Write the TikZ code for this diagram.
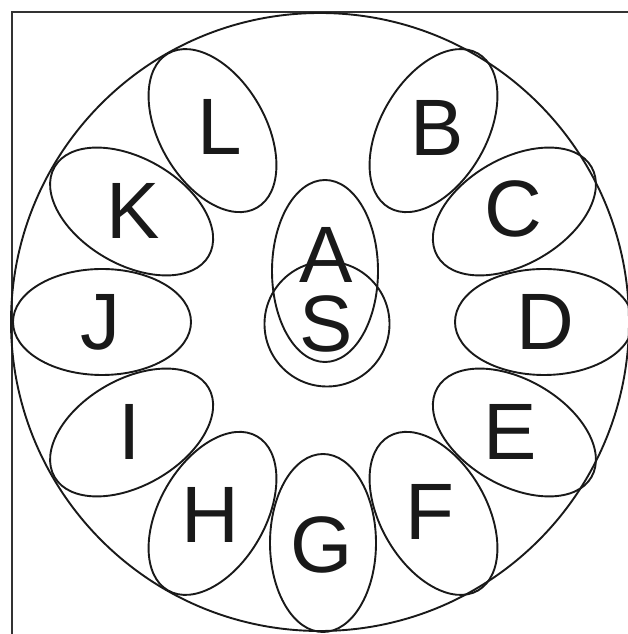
\documentclass[tikz,border=0pt]{standalone}
\usepackage{fontspec}
\setmainfont{Liberation Sans}
\usetikzlibrary{shapes.geometric}
\begin{document}
\begin{tikzpicture}[x=1pt,y=1pt,
  line/.style={line width=1.9pt, draw=black!90},
  petal/.style={line, ellipse, inner sep=0pt, outer sep=0pt, minimum width=178pt, minimum height=106pt},
  lbl/.style={inner sep=0pt, font=\fontsize{80}{80}\selectfont, text=black!90}]
\useasboundingbox (0,0) rectangle (628,634);
% frame
\coordinate (f1) at (12,0);
\coordinate (f2) at (12,622);
\coordinate (f3) at (628,622);
\draw[line, line width=2.2pt, draw=black!80] (f1) -- (f2) -- (f3);
% big circle
\node[line, circle, inner sep=0pt, minimum size=618pt] (big) at (320,312) {};
% petals
\foreach \n/\a/\lx/\ly in {B/60/437/506, C/30/513/425, D/0/545/312, E/-30/510/202, F/-60/430/122, G/-90/322/89, H/-120/210/119, I/-150/130/202, J/180/100/312, K/150/133/423, L/120/220/507}{
  \node[petal, rotate=\a] (p\n) at ({323+221*cos(\a)},{312+221*sin(\a)}) {};
  \node[lbl] (\n) at (\lx,\ly) {\n};
}
% A and S
\node[line, ellipse, inner sep=0pt, minimum width=106pt, minimum height=182pt] (pA) at (325,363) {};
\node[line, circle, inner sep=0pt, minimum size=125pt] (pS) at (327,310) {};
\node[lbl] (A) at (326,379) {A};
\node[lbl] (S) at (326,310) {S};
\end{tikzpicture}
\end{document}
